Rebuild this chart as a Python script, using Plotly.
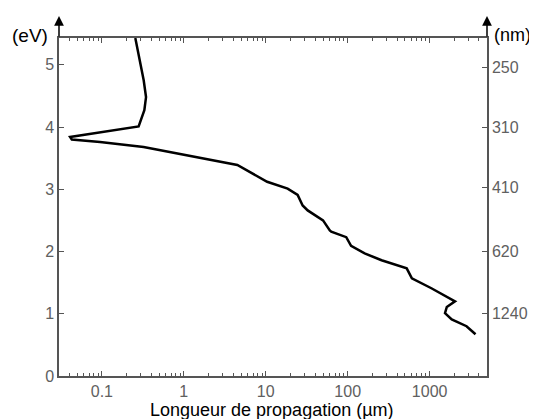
import plotly.graph_objects as go

# propagation length (um) vs photon energy (eV)
longueur_um = [0.256, 0.30, 0.324, 0.346, 0.33, 0.281, 0.041, 0.043, 0.095, 0.323,
               0.91, 2.33, 4.5, 10.4, 18.5, 24.5, 28.2, 32.5, 50, 60.5,
               63, 96, 110, 161, 259, 525, 607, 1050, 2040, 1620,
               1540, 1860, 2820, 3630]
energie_ev = [5.43, 5.0, 4.75, 4.48, 4.27, 4.01, 3.84, 3.80, 3.76, 3.68,
              3.57, 3.47, 3.39, 3.12, 3.01, 2.91, 2.74, 2.66, 2.50, 2.34,
              2.32, 2.23, 2.09, 1.97, 1.86, 1.73, 1.57, 1.41, 1.20, 1.11,
              1.01, 0.91, 0.80, 0.67]

x_ticks = [0.1, 1, 10, 100, 1000]
x_ticktext = ["0.1", "1", "10", "100", "1000"]
ev_ticks = [0, 1, 2, 3, 4, 5]
nm_ticks = [250, 310, 410, 620, 1240]

GREY = "#555555"
FAMILY = "Liberation Sans, Arial"
TICKFONT = dict(family=FAMILY, size=16, color="#606060")

fig = go.Figure()
fig.add_trace(go.Scatter(x=longueur_um, y=energie_ev, mode="lines",
                         line=dict(color="black", width=2.5), showlegend=False))
# invisible trace so the right axis is drawn
fig.add_trace(go.Scatter(x=[longueur_um[0]], y=[energie_ev[0]], yaxis="y2",
                         mode="lines", line=dict(width=0), showlegend=False,
                         hoverinfo="skip"))

# the page body adds an 8px offset, so the figure is 8px smaller
fig.update_layout(
    width=529, height=411,
    margin=dict(l=51, r=50, t=30, b=43),
    paper_bgcolor="white", plot_bgcolor="white",
    xaxis=dict(type="log", range=[-1.523, 3.70], automargin=False,
               tickvals=x_ticks, ticktext=x_ticktext,
               ticks="inside", ticklen=5, tickcolor=GREY,
               minor=dict(ticks="inside", ticklen=3, tickcolor=GREY, dtick="D1"),
               showline=True, linecolor=GREY, linewidth=1.5, mirror="ticks",
               showgrid=False, zeroline=False, tickfont=TICKFONT),
    yaxis=dict(range=[0, 5.43], tickvals=ev_ticks, automargin=False,
               ticks="inside", ticklen=5, tickcolor=GREY,
               showline=True, linecolor=GREY, linewidth=1.5,
               showgrid=False, zeroline=False, tickfont=TICKFONT),
    yaxis2=dict(overlaying="y", side="right", range=[0, 5.43], automargin=False,
                tickvals=[1240 / v for v in nm_ticks],
                ticktext=[str(v) for v in nm_ticks],
                ticks="inside", ticklen=5, tickcolor=GREY,
                showline=True, linecolor=GREY, linewidth=1.5,
                showgrid=False, zeroline=False, tickfont=TICKFONT),
)

# x axis title placed as annotation below tick labels
fig.add_annotation(xref="paper", yref="paper", x=0.497, y=0, yanchor="middle",
                   yshift=-34, text="Longueur de propagation (µm)", showarrow=False,
                   font=dict(family=FAMILY, size=18, color="black"))

# axis arrows and unit labels
for xp in (0, 1):
    fig.add_annotation(xref="paper", yref="paper", x=xp, y=1.065, ax=0, ay=22,
                       text="", showarrow=True, arrowhead=2, arrowsize=1.3,
                       arrowwidth=1.5, arrowcolor="black")
fig.add_annotation(xref="paper", yref="paper", x=0, y=1.045, xanchor="right",
                   xshift=-9, text="(eV)", showarrow=False,
                   font=dict(family=FAMILY, size=19, color="black"))
fig.add_annotation(xref="paper", yref="paper", x=1, y=1.045, xanchor="left",
                   xshift=5, text="(nm)", showarrow=False,
                   font=dict(family=FAMILY, size=18, color="black"))

fig.write_html("out.html")
